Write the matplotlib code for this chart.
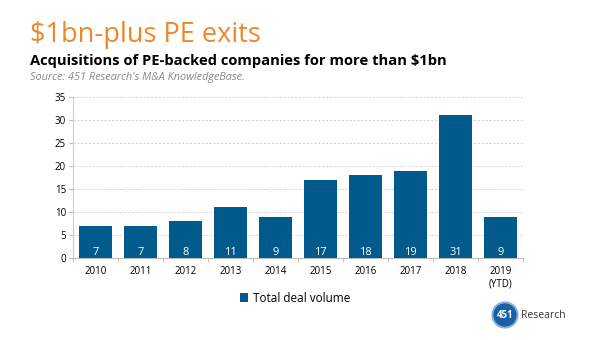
import matplotlib
matplotlib.use("Agg")
import matplotlib.pyplot as plt
from matplotlib.patches import Circle
import numpy as np

plt.rcParams['font.family'] = ['Open Sans', 'DejaVu Sans']

years = ["2010", "2011", "2012", "2013", "2014", "2015", "2016", "2017", "2018", "2019\n(YTD)"]
deals = [7, 7, 8, 11, 9, 17, 18, 19, 31, 9]
yticks = [0, 5, 10, 15, 20, 25, 30, 35]

bar_color = "#005a8c"
orange = "#f0862a"

fig = plt.figure(figsize=(6, 3.4), dpi=100)
W, H = 600, 340

# axes rectangle in pixel coords: left 73, right 523, top 97, bottom 258
ax = fig.add_axes([73 / W, 1 - 258 / H, (523 - 73) / W, (258 - 97) / H])

x = np.arange(len(years))
bars = ax.bar(x, deals, width=0.72, color=bar_color, zorder=3, label="Total deal volume")
for xi, v in zip(x, deals):
    ax.text(xi, 1.3, str(v), ha="center", va="center", color="white", fontsize=8, zorder=4)

ax.set_xlim(-0.5, len(years) - 0.5)
ax.set_ylim(0, 35)
ax.set_yticks(yticks)
ax.tick_params(axis="y", labelsize=7, length=3, color="#bbbbbb", pad=2)
ax.set_xticks(x)
ax.set_xticklabels(years, fontsize=7, linespacing=1.2)
ax.tick_params(axis="x", length=0, pad=6)
# category separator ticks on x axis
ax.set_xticks(np.arange(len(years) + 1) - 0.5, minor=True)
ax.tick_params(axis="x", which="minor", length=3, color="#bbbbbb")
ax.yaxis.grid(True, linestyle=(0, (2, 2)), color="#d0d0d0", linewidth=0.7, zorder=0)
for s in ["top", "right"]:
    ax.spines[s].set_visible(False)
ax.spines["left"].set_color("#cccccc")
ax.spines["bottom"].set_color("#bbbbbb")

# titles
fig.text(30 / W, 1 - 42 / H, "$1bn-plus PE exits", color=orange, fontsize=19.5, va="baseline")
fig.text(30 / W, 1 - 65 / H, "Acquisitions of PE-backed companies for more than $1bn",
         color="black", fontsize=10.6, fontweight="bold", va="baseline")
fig.text(30 / W, 1 - 80 / H, "Source: 451 Research's M&A KnowledgeBase.",
         color="#888888", fontsize=7.8, style="italic", va="baseline")

# legend
fig.legend(handles=[bars], loc="center", bbox_to_anchor=(295 / W, 1 - 298 / H),
           frameon=False, fontsize=8.5, handlelength=0.7, handleheight=0.7, handletextpad=0.4)

# logo
lax = fig.add_axes([0, 0, 1, 1], facecolor="none")
lax.set_xlim(0, W)
lax.set_ylim(H, 0)
lax.axis("off")
lax.add_patch(Circle((505, 315), 13, color="#4a86c5", alpha=0.5))
lax.add_patch(Circle((505, 315), 11, color="#1b5fa8"))
lax.text(505, 315, "451", color="white", fontsize=7, fontweight="bold", ha="center", va="center")
lax.text(521, 315, "Research", color="#333333", fontsize=7.5, ha="left", va="center")

fig.savefig("out.png", dpi=100)
